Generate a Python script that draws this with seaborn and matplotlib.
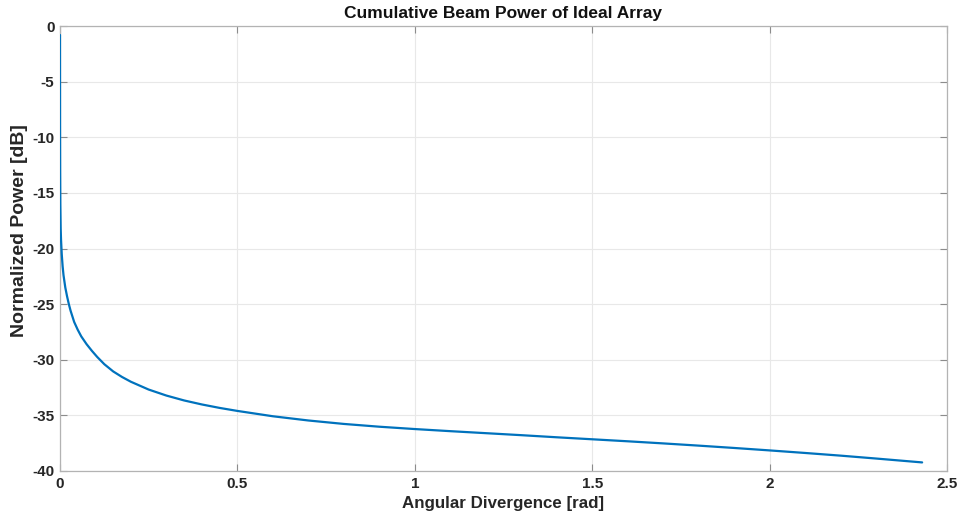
import matplotlib
matplotlib.use("Agg")
import matplotlib.pyplot as plt
import seaborn as sns
import pandas as pd

# Data
angle_rad = [0.0, 0.0002, 0.0005, 0.001, 0.002, 0.003, 0.005, 0.0075, 0.01, 0.015,
             0.02, 0.025, 0.03, 0.04, 0.05, 0.06, 0.075, 0.09, 0.105, 0.125,
             0.15, 0.175, 0.2, 0.25, 0.3, 0.35, 0.4, 0.45, 0.5, 0.6,
             0.7, 0.8, 0.9, 1.0, 1.1, 1.2, 1.3, 1.4, 1.5, 1.6,
             1.7, 1.8, 1.9, 2.0, 2.1, 2.2, 2.3, 2.43]
power_db = [-0.8, -9.0, -13.0, -16.0, -18.2, -19.2, -20.5, -21.6, -22.4, -23.5,
            -24.3, -25.0, -25.6, -26.6, -27.3, -27.9, -28.6, -29.2, -29.75, -30.4,
            -31.05, -31.55, -31.98, -32.68, -33.22, -33.66, -34.02, -34.33, -34.6, -35.08,
            -35.46, -35.77, -36.02, -36.23, -36.42, -36.6, -36.78, -36.97, -37.15, -37.33,
            -37.52, -37.72, -37.93, -38.15, -38.38, -38.62, -38.88, -39.23]
x_ticks = [0, 0.5, 1, 1.5, 2, 2.5]
x_tick_labels = ["0", "0.5", "1", "1.5", "2", "2.5"]
y_ticks = [0, -5, -10, -15, -20, -25, -30, -35, -40]
y_tick_labels = ["0", "-5", "-10", "-15", "-20", "-25", "-30", "-35", "-40"]

sns.set_theme(style="whitegrid")
plt.rcParams['font.family'] = ['Liberation Sans', 'DejaVu Sans']

df = pd.DataFrame({"x": angle_rad, "y": power_db})

fig = plt.figure(figsize=(9.61, 5.21), dpi=100)
ax = fig.add_axes([0.0624, 0.096, 0.923, 0.854])
sns.lineplot(data=df, x="x", y="y", ax=ax, color="#0072BD", linewidth=1.6,
             sort=False, estimator=None, zorder=3)

ax.set_xlim(0, 2.5)
ax.set_ylim(-40, 0)
ax.set_xticks(x_ticks)
ax.set_xticklabels(x_tick_labels, fontweight="bold", fontsize=11, color="#262626")
ax.set_yticks(y_ticks)
ax.set_yticklabels(y_tick_labels, fontweight="bold", fontsize=11, color="#262626")

ax.set_facecolor("white")
ax.grid(True, color="#e8e8e8", linewidth=0.8)
for s in ax.spines.values():
    s.set_visible(True)
    s.set_color("#b3b3b3")
    s.set_linewidth(0.9)

ax.tick_params(axis="both", which="both", direction="in", length=5, width=0.8,
               color="#8c8c8c", top=True, right=True, bottom=True, left=True,
               pad=4)

ax.set_xlabel("Angular Divergence [rad]", fontweight="bold", fontsize=12.2,
              color="#262626", labelpad=4)
ax.set_ylabel("Normalized Power [dB]", fontweight="bold", fontsize=14,
              color="#262626")
ax.yaxis.set_label_coords(-0.036, 0.54)
ax.set_title("Cumulative Beam Power of Ideal Array", fontweight="bold",
             fontsize=12.5, color="#111111", pad=6)

fig.savefig("out.png", dpi=100, facecolor="white")
